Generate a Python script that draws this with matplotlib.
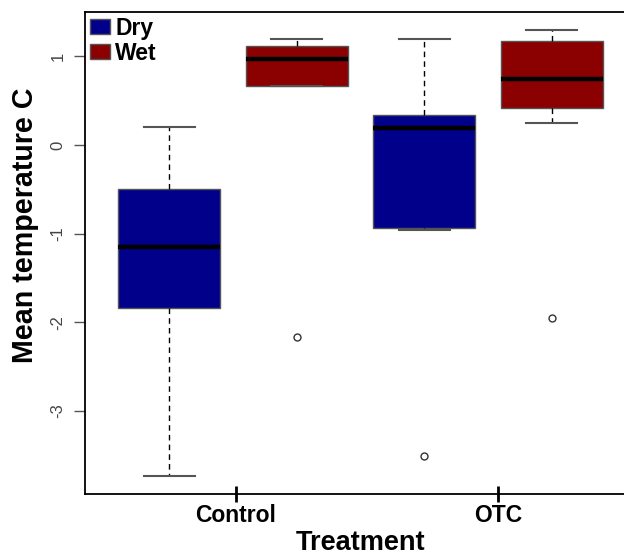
import matplotlib
matplotlib.use("Agg")
import matplotlib.pyplot as plt
from matplotlib.patches import Patch

# values (deg C)
treatments = ["Control", "OTC"]
conditions = ["Dry", "Wet", "Dry", "Wet"]
colors = {"Dry": "#00008B", "Wet": "#8B0000"}

q1 = [-1.84, 0.67, -0.94, 0.42]
med = [-1.15, 0.97, 0.19, 0.74]
q3 = [-0.50, 1.12, 0.34, 1.17]
whislo = [-3.74, 0.67, -0.955, 0.25]
whishi = [0.20, 1.20, 1.20, 1.30]
fliers = [[], [-2.17], [-3.51], [-1.955]]

yticks = [-3, -2, -1, 0, 1]

plt.rcParams["font.family"] = ["Liberation Sans", "DejaVu Sans"]

stats = []
for i in range(len(conditions)):
    stats.append({"med": med[i], "q1": q1[i], "q3": q3[i],
                  "whislo": whislo[i], "whishi": whishi[i],
                  "fliers": fliers[i], "label": conditions[i]})

fig = plt.figure(figsize=(6.24, 5.58), dpi=100)
ax = fig.add_axes([85 / 624, 64 / 558, 551 / 624, 482 / 558])

bp = ax.bxp(stats, positions=[1, 2, 3, 4], widths=0.8, capwidths=0.4,
            patch_artist=True, manage_ticks=False,
            boxprops=dict(edgecolor="#555555", linewidth=1),
            medianprops=dict(color="black", linewidth=3.2, solid_capstyle="butt"),
            whiskerprops=dict(color="black", linewidth=1, linestyle=(0, (4, 3))),
            capprops=dict(color="#555555", linewidth=1.5),
            flierprops=dict(marker="o", markersize=5, markerfacecolor="none",
                            markeredgecolor="#333333", markeredgewidth=1))
for box, cond in zip(bp["boxes"], conditions):
    box.set_facecolor(colors[cond])

ax.set_xlim(0.34, 4.66)
ax.set_ylim(-3.94, 1.50)

ax.set_yticks(yticks)
ax.set_yticklabels([str(v) for v in yticks], rotation=90, va="center",
                   fontsize=12, color="#444444")
ax.tick_params(axis="y", length=8, width=1, color="#555555", pad=6)

ax.set_xticks([1.52, 3.58])
ax.set_xticklabels(treatments, fontsize=16.5, fontweight="bold")
ax.tick_params(axis="x", direction="inout", length=12, width=2, pad=1)

for s in ax.spines.values():
    s.set_linewidth(1.3)

ax.set_ylabel("Mean temperature C", fontsize=20.6, fontweight="bold")
ax.yaxis.set_label_coords(-0.0835, 0.557)
ax.set_xlabel("Treatment", fontsize=19.5, fontweight="bold", labelpad=2.5)

handles = [Patch(facecolor=colors["Dry"], edgecolor="#555555", label="Dry"),
           Patch(facecolor=colors["Wet"], edgecolor="#555555", label="Wet")]
leg = ax.legend(handles=handles, loc="upper left", frameon=False,
                prop=dict(size=16.5, weight="bold"), handlelength=0.87,
                handleheight=0.65, handletextpad=0.25, labelspacing=0.1,
                borderaxespad=0.1, borderpad=0.1)

fig.savefig("out.png", dpi=100)
